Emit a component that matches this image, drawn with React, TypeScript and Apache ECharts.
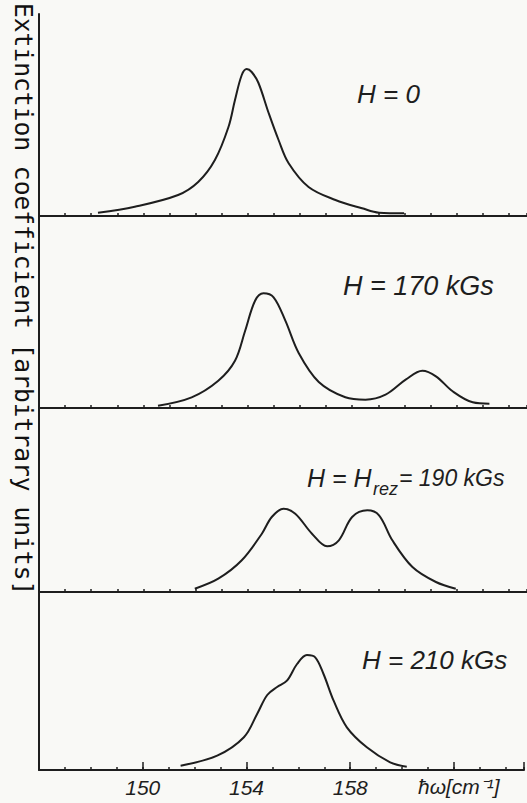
import React, { useEffect, useRef } from "react";
import * as echarts from "echarts";

// x in cm^-1, y in arbitrary units (panel-relative)
const h0X = [148.26, 149.67, 151.33, 152.1, 152.74, 153.26, 153.51, 153.77, 153.96, 154.15, 154.41, 154.8, 155.18, 155.56, 156.33, 157.36, 158.38, 159.03, 159.99];
const h0Y = [3.3, 9.3, 21, 34, 56, 89, 116, 141, 147, 144, 133, 103, 76, 53, 29, 16, 7.7, 3.3, 2.7];

const h170X = [150.56, 151.85, 152.87, 153.51, 153.9, 154.28, 154.6, 154.99, 155.44, 155.95, 156.72, 157.74, 158.51, 159.28, 160.05, 160.69, 161.21, 161.85, 162.62, 163.26];
const h170Y = [2.3, 10.7, 27.3, 47.3, 77.3, 107.3, 114.7, 110.7, 87.3, 55, 26, 10.7, 8.3, 13.3, 28.3, 37.3, 31.7, 16.7, 5.7, 4.3];

const h190X = [151.97, 152.87, 153.77, 154.54, 154.92, 155.37, 155.82, 156.46, 157.04, 157.49, 158.0, 158.58, 159.03, 159.54, 160.31, 161.21, 161.97];
const h190Y = [3.3, 13.3, 31.7, 58.3, 75, 83.3, 78.3, 58.3, 45.7, 51.7, 75, 81.7, 76.7, 51.7, 25, 10, 3.3];

const h210X = [151.46, 152.87, 153.9, 154.41, 154.8, 155.18, 155.56, 155.95, 156.33, 156.65, 156.97, 157.36, 157.87, 158.64, 159.54, 160.18];
const h210Y = [4.3, 14.3, 32.7, 56, 75, 83, 89.3, 106, 115, 112.7, 96, 69.3, 42.7, 22.7, 7.7, 3.3];

const tickLabels = [150, 154, 158];
const panelLabels = ["H = 0", "H = 170 kGs", "H = H", "rez", "= 190 kGs", "H = 210 kGs"];
const yTitle = "Extinction coefficient [arbitrary units]";
const xTitle = "ħω[cm⁻¹]";

const X_MIN = 146;
const X_MAX = 164.7;
const INK = "#1e1e1e";

const panels = [
  { top: 14, height: 202, xs: h0X, ys: h0Y },
  { top: 216, height: 192, xs: h170X, ys: h170Y },
  { top: 408, height: 184, xs: h190X, ys: h190Y },
  { top: 592, height: 178, xs: h210X, ys: h210Y },
];

const labelFont = "'Liberation Sans', Arial, sans-serif";

export default function App() {
  const ref = useRef<HTMLDivElement>(null);

  useEffect(() => {
    if (!ref.current) return;
    const chart = echarts.init(ref.current, undefined, { renderer: "svg" });

    const grid = panels.map((p) => ({ left: 39, right: 0, top: p.top, height: p.height }));

    const xAxis: any[] = [];
    panels.forEach((p, i) => {
      xAxis.push({
        type: "value",
        gridIndex: i,
        min: X_MIN,
        max: X_MAX,
        interval: 1,
        axisLine: { show: true, onZero: false, lineStyle: { color: INK, width: 2 } },
        axisTick: { show: true, inside: true, length: 3, lineStyle: { color: INK, width: 1.5 } },
        axisLabel: { show: false },
        splitLine: { show: false },
      });
    });
    // top border
    xAxis.push({
      type: "value",
      gridIndex: 0,
      position: "top",
      min: X_MIN,
      max: X_MAX,
      axisLine: { show: true, lineStyle: { color: INK, width: 2 } },
      axisTick: { show: false },
      axisLabel: { show: false },
      splitLine: { show: false },
    });
    // major ticks + labels on bottom panel
    xAxis.push({
      type: "value",
      gridIndex: 3,
      position: "bottom",
      min: X_MIN,
      max: X_MAX,
      interval: 4,
      axisLine: { show: false },
      axisTick: { show: true, inside: true, length: 8, lineStyle: { color: INK, width: 1.5 } },
      axisLabel: {
        show: true,
        margin: 7,
        color: INK,
        fontSize: 21,
        fontStyle: "italic",
        fontFamily: labelFont,
        formatter: (v: number) => (tickLabels.includes(v) ? String(v) : ""),
      },
      splitLine: { show: false },
    });

    const yAxis = panels.map((p, i) => ({
      type: "value",
      gridIndex: i,
      min: 0,
      max: p.height,
      axisLine: { show: true, lineStyle: { color: INK, width: 2 } },
      axisTick: { show: false },
      axisLabel: { show: false },
      splitLine: { show: false },
    }));

    const series = panels.map((p, i) => ({
      type: "line",
      xAxisIndex: i,
      yAxisIndex: i,
      smooth: 0.35,
      showSymbol: false,
      lineStyle: { color: INK, width: 2 },
      data: p.xs.map((x, j) => [x, p.ys[j]]),
    }));

    const txt = (text: string, x: number, y: number, size: number) => ({
      type: "text",
      x,
      y,
      style: {
        text,
        fill: INK,
        font: `italic ${size}px ${labelFont}`,
        align: "left",
        verticalAlign: "middle",
      },
    });

    chart.setOption({
      animation: false,
      backgroundColor: "#f9f9f6",
      grid,
      xAxis,
      yAxis,
      series,
      graphic: [
        txt(panelLabels[0], 357, 94, 26),
        txt(panelLabels[1], 343, 286, 27),
        txt(panelLabels[2], 307, 478, 25),
        txt(panelLabels[3], 373, 489, 18),
        txt(panelLabels[4], 399, 478, 23),
        txt(panelLabels[5], 362, 660, 26),
        txt(xTitle, 418, 786, 21),
        {
          type: "text",
          x: 23,
          y: 3,
          rotation: -Math.PI / 2,
          style: {
            text: yTitle,
            fill: "#111",
            font: "24.6px 'DejaVu Sans Mono', monospace",
            align: "left",
            verticalAlign: "middle",
          },
        },
      ],
    });

    return () => chart.dispose();
  }, []);

  return (
    <div
      ref={ref}
      style={{ position: "fixed", left: 0, top: 0, width: 527, height: 803 }}
    />
  );
}
